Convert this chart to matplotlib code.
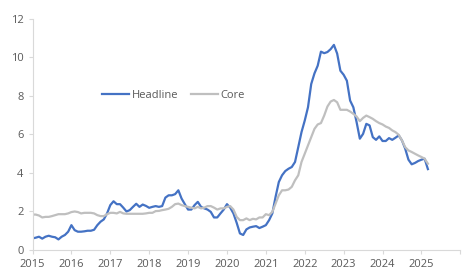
import numpy as np
import matplotlib.pyplot as plt

plt.rcParams['font.family'] = ['Open Sans', 'DejaVu Sans']

# monthly readings, Jan 2015 - Mar 2025
headline = [0.60, 0.64, 0.69, 0.59, 0.69, 0.74, 0.69, 0.66, 0.55, 0.69, 0.78, 0.95,
            1.29, 1.03, 0.95, 0.95, 0.97, 1.00, 1.00, 1.05, 1.29, 1.47, 1.59, 1.90,
            2.33, 2.53, 2.38, 2.38, 2.20, 2.00, 2.07, 2.24, 2.40, 2.24, 2.36, 2.29,
            2.19, 2.24, 2.28, 2.24, 2.28, 2.72, 2.84, 2.84, 2.90, 3.10, 2.67, 2.38,
            2.10, 2.10, 2.33, 2.50, 2.24, 2.16, 2.10, 1.98, 1.69, 1.69, 1.90, 2.10,
            2.38, 2.20, 1.90, 1.41, 0.86, 0.78, 1.07, 1.17, 1.21, 1.24, 1.14, 1.21,
            1.29, 1.55, 1.90, 2.76, 3.53, 3.88, 4.10, 4.22, 4.31, 4.57, 5.34, 6.12,
            6.72, 7.41, 8.62, 9.17, 9.57, 10.30, 10.22, 10.28, 10.43, 10.65, 10.20, 9.31,
            9.10, 8.79, 7.76, 7.41, 6.64, 5.78, 6.03, 6.55, 6.47, 5.86, 5.72, 5.90,
            5.66, 5.66, 5.81, 5.72, 5.83, 5.95, 5.69, 5.26, 4.69, 4.45, 4.52, 4.62,
            4.69, 4.74, 4.20]
core = [1.84, 1.84, 1.79, 1.69, 1.72, 1.72, 1.76, 1.81, 1.86, 1.86, 1.86, 1.90,
        1.97, 2.00, 1.97, 1.90, 1.93, 1.93, 1.93, 1.90, 1.81, 1.76, 1.76, 1.86,
        1.93, 1.93, 1.90, 1.98, 1.90, 1.88, 1.88, 1.88, 1.88, 1.88, 1.88, 1.90,
        1.93, 1.93, 2.02, 2.03, 2.07, 2.10, 2.14, 2.24, 2.38, 2.41, 2.33, 2.28,
        2.24, 2.20, 2.16, 2.24, 2.16, 2.20, 2.28, 2.28, 2.20, 2.10, 2.16, 2.16,
        2.24, 2.28, 2.10, 1.72, 1.55, 1.55, 1.64, 1.55, 1.62, 1.59, 1.69, 1.69,
        1.86, 1.81, 1.98, 2.41, 2.84, 3.10, 3.10, 3.14, 3.28, 3.62, 3.88, 4.57,
        5.00, 5.43, 5.86, 6.29, 6.52, 6.59, 6.98, 7.45, 7.71, 7.79, 7.67, 7.28,
        7.28, 7.28, 7.19, 7.07, 6.93, 6.69, 6.86, 6.98, 6.90, 6.81, 6.69, 6.59,
        6.52, 6.41, 6.34, 6.21, 6.12, 5.98, 5.69, 5.34, 5.17, 5.09, 5.00, 4.91,
        4.83, 4.74, 4.48]
years = [str(y) for y in range(2015, 2026)] + ['']

months = np.arange(len(headline))

fig = plt.figure(figsize=(4.74, 2.74), dpi=100)
ax = fig.add_axes([0.0686, 0.0876, 0.9025, 0.8434])

ax.plot(months, headline, color='#4472C4', lw=1.6, label='Headline')
ax.plot(months, core, color='#BFBFBF', lw=1.6, label='Core')

ax.set_xlim(0, 132)
ax.set_ylim(0, 12)
ax.set_xticks(np.arange(0, 133, 12))
ax.set_xticklabels(years)
ax.set_yticks(np.arange(0, 13, 2))

for s in ['top', 'right']:
    ax.spines[s].set_visible(False)
for s in ['left', 'bottom']:
    ax.spines[s].set_color('#D9D9D9')
ax.tick_params(colors='#D9D9D9', labelcolor='#595959', labelsize=8, length=3)

ax.legend(loc='center', bbox_to_anchor=(0.33, 0.67), ncol=2, frameon=False,
          fontsize=8, handlelength=2.4, handletextpad=0.3, columnspacing=1.1,
          labelcolor='#595959')

fig.savefig('out.png', dpi=100)
